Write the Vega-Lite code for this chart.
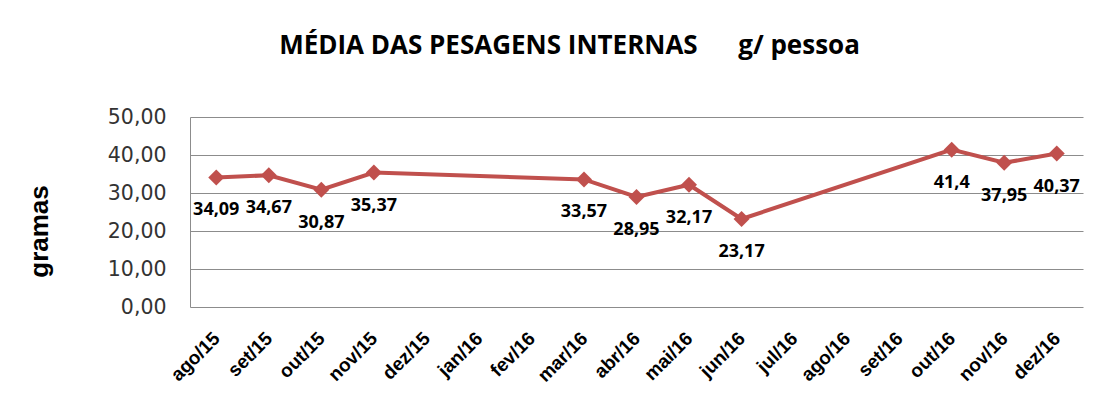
{
  "$schema": "https://vega.github.io/schema/vega-lite/v6.json",
  "autosize": "none",
  "padding": {"left": 190, "top": 117, "right": 35, "bottom": 93},
  "width": 893,
  "height": 190,
  "background": "white",
  "title": {
    "text": "MÉDIA DAS PESAGENS INTERNAS\u00a0\u00a0\u00a0\u00a0\u00a0\u00a0g/ pessoa",
    "anchor": "middle",
    "frame": "group",
    "dx": -67,
    "offset": 48,
    "font": "Open Sans",
    "fontSize": 26,
    "fontWeight": "bold",
    "color": "#000000"
  },
  "data": {
    "values": [
      {"mes": "ago/15", "valor": 34.09, "rotulo": "34,09"},
      {"mes": "set/15", "valor": 34.67, "rotulo": "34,67"},
      {"mes": "out/15", "valor": 30.87, "rotulo": "30,87"},
      {"mes": "nov/15", "valor": 35.37, "rotulo": "35,37"},
      {"mes": "mar/16", "valor": 33.57, "rotulo": "33,57"},
      {"mes": "abr/16", "valor": 28.95, "rotulo": "28,95"},
      {"mes": "mai/16", "valor": 32.17, "rotulo": "32,17"},
      {"mes": "jun/16", "valor": 23.17, "rotulo": "23,17"},
      {"mes": "out/16", "valor": 41.4, "rotulo": "41,4"},
      {"mes": "nov/16", "valor": 37.95, "rotulo": "37,95"},
      {"mes": "dez/16", "valor": 40.37, "rotulo": "40,37"}
    ]
  },
  "encoding": {
    "x": {
      "field": "mes",
      "type": "ordinal",
      "sort": null,
      "scale": {
        "type": "point",
        "padding": 0.5,
        "domain": ["ago/15", "set/15", "out/15", "nov/15", "dez/15", "jan/16", "fev/16", "mar/16", "abr/16", "mai/16", "jun/16", "jul/16", "ago/16", "set/16", "out/16", "nov/16", "dez/16"]
      },
      "axis": {
        "title": null,
        "labelAngle": -45,
        "labelAlign": "right",
        "labelBaseline": "middle",
        "labelPadding": 28,
        "labelFont": "Liberation Sans",
        "labelFontSize": 19,
        "labelFontWeight": "bold",
        "labelColor": "#000000",
        "labelOverlap": false,
        "ticks": false,
        "domain": false,
        "grid": false
      }
    },
    "y": {
      "field": "valor",
      "type": "quantitative",
      "scale": {"domain": [0, 50], "nice": false},
      "axis": {
        "title": "gramas",
        "titleFont": "Liberation Sans",
        "titleFontSize": 26,
        "titleFontWeight": "bold",
        "titleColor": "#000000",
        "titleX": -138,
        "titleY": 114,
        "values": [0, 10, 20, 30, 40, 50],
        "labelExpr": "replace(format(datum.value, '.2f'), '.', ',')",
        "labelFont": "DejaVu Sans",
        "labelFontSize": 20.5,
        "labelColor": "#333333",
        "labelPadding": 24,
        "labelOverlap": false,
        "ticks": false,
        "domain": true,
        "domainColor": "#8c8c8c",
        "gridColor": "#8c8c8c",
        "gridWidth": 1
      }
    }
  },
  "layer": [
    {
      "mark": {"type": "line", "color": "#C0504D", "strokeWidth": 4}
    },
    {
      "mark": {"type": "point", "shape": "diamond", "filled": true, "color": "#C0504D", "size": 256, "opacity": 1}
    },
    {
      "mark": {"type": "text", "dy": 33, "font": "Open Sans", "fontSize": 18, "fontWeight": "bold", "color": "#000000"},
      "encoding": {"text": {"field": "rotulo"}}
    }
  ],
  "config": {"view": {"stroke": null}}
}
